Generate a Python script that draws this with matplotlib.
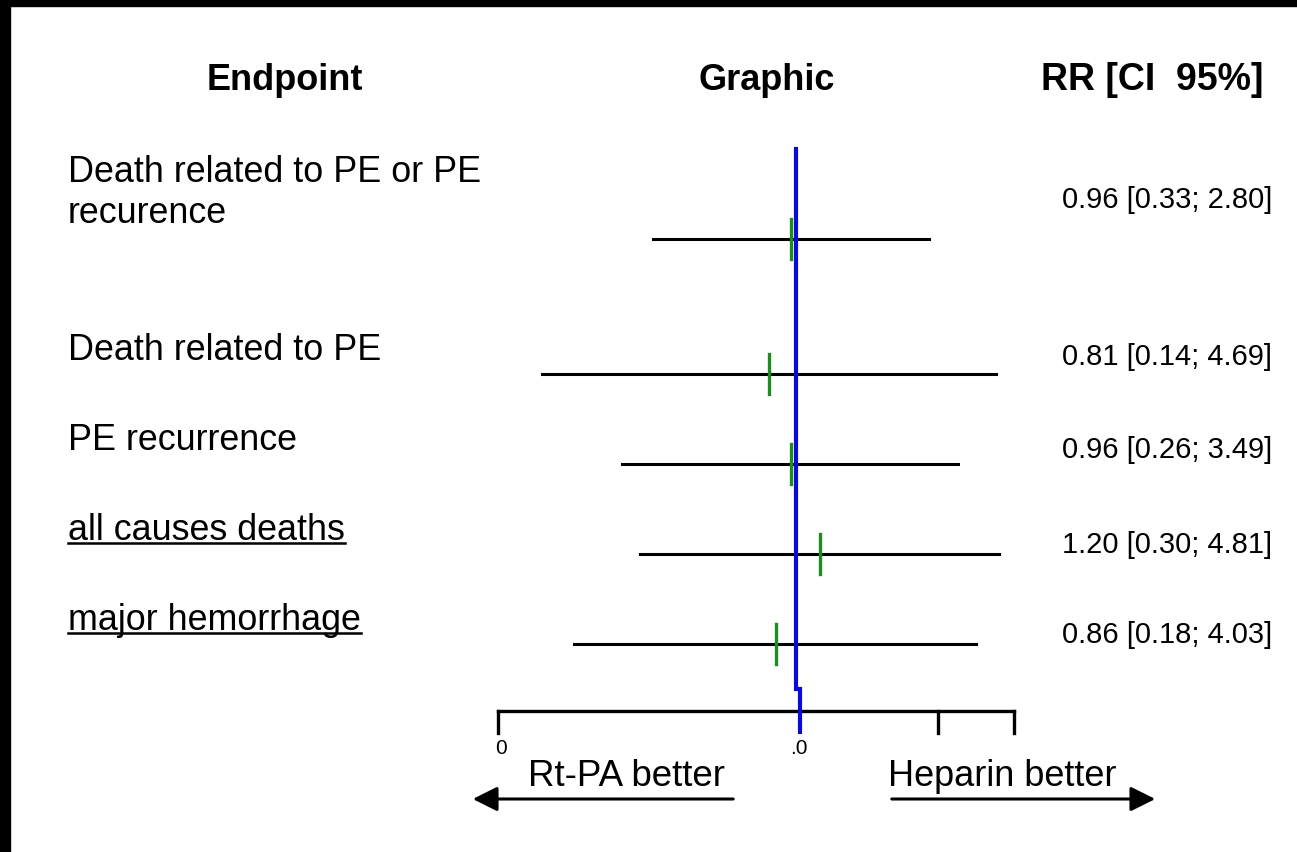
import numpy as np
import matplotlib
matplotlib.use("Agg")
import matplotlib.pyplot as plt
from matplotlib.patches import Rectangle

plt.rcParams['font.family'] = ['Liberation Sans', 'DejaVu Sans']

# data
endpoints = ["Death related to PE or PE\nrecurence", "Death related to PE",
             "PE recurrence", "all causes deaths", "major hemorrhage"]
underlined = [False, False, False, True, True]
rr = [0.96, 0.81, 0.96, 1.20, 0.86]
ci_low = [0.33, 0.14, 0.26, 0.30, 0.18]
ci_high = [2.80, 4.69, 3.49, 4.81, 4.03]
axis_ticks = [0.1, 1.0, 3.0, 5.4]
axis_ticklabels = ["0", ".0", "", ""]

# layout (pixel rows, top = 0)
W, H = 1297, 853
label_y = [193, 350, 440, 530, 620]
value_y = [200, 357, 450, 545, 635]
line_y = [240, 375, 465, 555, 645]
x_one = 796      # pixel of RR = 1
decade = 298     # pixels per decade

fig = plt.figure(figsize=(W / 100, H / 100), dpi=100)
canvas = fig.add_axes([0, 0, 1, 1])
canvas.set_xlim(0, W)
canvas.set_ylim(H, 0)
canvas.axis('off')

ax = fig.add_axes([0, 0, 1, 1], facecolor='none')
ax.set_xscale('log')
ax.set_xlim(10 ** (-x_one / decade), 10 ** ((W - x_one) / decade))
ax.set_ylim(H, 0)
ax.axis('off')

# black frame remains on top / left
canvas.add_patch(Rectangle((0, 0), W, 7, color='black', zorder=5))
canvas.add_patch(Rectangle((0, 0), 10, H, color='black', zorder=5))

# headers
canvas.text(285, 80, "Endpoint", fontsize=26, fontweight='bold', ha='center', va='center')
canvas.text(767, 80, "Graphic", fontsize=26, fontweight='bold', ha='center', va='center')
canvas.text(1152, 80, "RR [CI  95%]", fontsize=27, fontweight='bold', ha='center', va='center')

# labels and values
label_texts = []
for i, name in enumerate(endpoints):
    t = canvas.text(68, label_y[i], name, fontsize=25.8, ha='left', va='center', linespacing=1.25)
    label_texts.append(t)
    canvas.text(1272, value_y[i], "%.2f [%.2f; %.2f]" % (rr[i], ci_low[i], ci_high[i]),
                fontsize=21, ha='right', va='center')

# null line
ax.plot([1.0, 1.0], [150, 690], color='#0a0ad8', lw=3, zorder=3)
ax.plot([1.0, 1.0], [690, 733], color='#0a0ad8', lw=3, zorder=3,
        transform=ax.transData + matplotlib.transforms.Affine2D().translate(4, 0))

# CI lines and point estimates
for i in range(len(rr)):
    ax.plot([ci_low[i], ci_high[i]], [line_y[i], line_y[i]], color='black', lw=2.2, zorder=2)
    ax.plot([rr[i], rr[i]], [line_y[i] - 20, line_y[i] + 20], color='#1e8c1e', lw=2.4, zorder=4)

# bottom axis
ax.plot([axis_ticks[0], axis_ticks[-1]], [712, 712], color='black', lw=2.4, zorder=2)
for tk, lab in zip(axis_ticks, axis_ticklabels):
    if tk != 1.0:
        ax.plot([tk, tk], [712, 734], color='black', lw=2.4, zorder=2)
    if lab:
        ax.text(tk * 1.02, 749, lab, fontsize=15, ha='center', va='center')

# favours arrows
canvas.text(627, 777, "Rt-PA better", fontsize=26.5, ha='center', va='center')
canvas.text(1002, 777, "Heparin better", fontsize=26, ha='center', va='center')
canvas.annotate("", xy=(470, 800), xytext=(736, 800),
                arrowprops=dict(arrowstyle='-|>,head_length=0.5,head_width=0.25',
                                color='black', lw=2.2, mutation_scale=30))
canvas.annotate("", xy=(1158, 800), xytext=(889, 800),
                arrowprops=dict(arrowstyle='-|>,head_length=0.5,head_width=0.25',
                                color='black', lw=2.2, mutation_scale=30))

# underline the last two endpoints
fig.canvas.draw()
inv = canvas.transData.inverted()
for t, u in zip(label_texts, underlined):
    if u:
        bb = t.get_window_extent()
        (x0, y0), (x1, y1) = inv.transform([[bb.x0, bb.y0], [bb.x1, bb.y1]])
        canvas.plot([x0, x1], [y0 - 4, y0 - 4], color='black', lw=1.8)

fig.savefig("out.png", dpi=100)
